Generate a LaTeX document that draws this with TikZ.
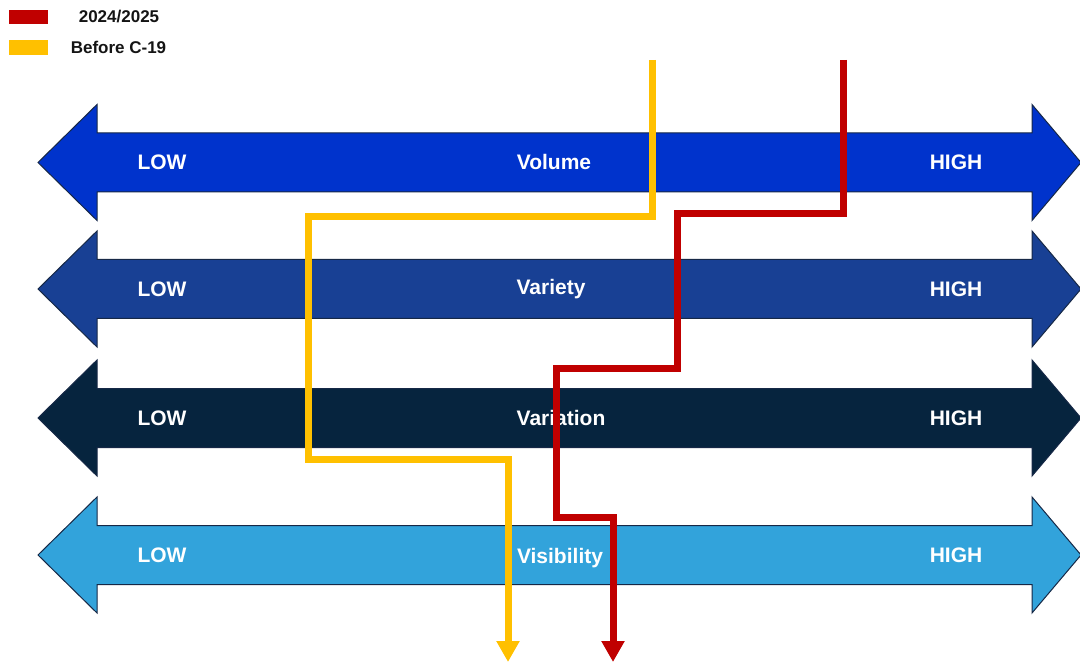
\documentclass[tikz,border=0pt]{standalone}
\usepackage{fontspec}
\setmainfont{Liberation Sans}
\usetikzlibrary{arrows.meta}
\definecolor{cVolume}{RGB}{0,51,204}
\definecolor{cVariety}{RGB}{24,64,148}
\definecolor{cVariation}{RGB}{6,36,62}
\definecolor{cVisibility}{RGB}{50,163,219}
\definecolor{cEdge}{RGB}{22,40,70}
\definecolor{cRed}{RGB}{192,0,0}
\definecolor{cYellow}{RGB}{255,192,0}
\definecolor{cInk}{RGB}{20,20,20}
\tikzset{
  dblarrow/.style={draw=cEdge, line width=1pt, line join=miter},
  barlabel/.style={text=white, font=\fontsize{21}{25}\selectfont\bfseries, inner sep=0pt},
  legendtext/.style={text=cInk, font=\fontsize{17}{20}\selectfont\bfseries, inner sep=0pt},
  trail/.style={line width=7pt, line join=miter, line cap=butt,
    -{Triangle[width=22pt,length=21pt]}},
}
% double-headed horizontal band centred at height #1
\newcommand{\bandarrow}[2]{%
  \fill[#2] (38,#1) -- (97,#1-58) -- (97,#1-29.5) -- (1032,#1-29.5) -- (1032,#1-58)
    -- (1081,#1) -- (1032,#1+58) -- (1032,#1+29.5) -- (97,#1+29.5) -- (97,#1+58) -- cycle;
  \draw[dblarrow] (38,#1) -- (97,#1-58) -- (97,#1-29.5) -- (1032,#1-29.5) -- (1032,#1-58)
    -- (1081,#1) -- (1032,#1+58) -- (1032,#1+29.5) -- (97,#1+29.5) -- (97,#1+58) -- cycle;}
\begin{document}
\begin{tikzpicture}[x=1pt,y=-1pt]
\useasboundingbox (0,0) rectangle (1080,663);

% legend
\fill[cRed] (9,10) rectangle (48,24);
\node[legendtext] (leg1) at (119,16.5) {2024/2025};
\fill[cYellow] (9,40) rectangle (48,55);
\node[legendtext] (leg2) at (118.5,47.5) {Before C-19};

% the four scales
\bandarrow{162.5}{cVolume}
\bandarrow{289}{cVariety}
\bandarrow{418}{cVariation}
\bandarrow{555}{cVisibility}

\node[barlabel] (low1) at (162,162) {LOW};
\node[barlabel] (vol) at (554,162) {Volume};
\node[barlabel] (high1) at (956,162) {HIGH};

\node[barlabel] (low2) at (162,289) {LOW};
\node[barlabel] (vty) at (551,289) {Variety};
\node[barlabel] (high2) at (956,289) {HIGH};

\node[barlabel] (low3) at (162,418) {LOW};
\node[barlabel] (vtn) at (561,418) {Variation};
\node[barlabel] (high3) at (956,418) {HIGH};

\node[barlabel] (low4) at (162,555) {LOW};
\node[barlabel] (vis) at (560,558) {Visibility};
\node[barlabel] (high4) at (956,555) {HIGH};

% Before C-19 path
\coordinate (ys) at (652,60);
\coordinate (y1) at (652,217);
\coordinate (y2) at (308,217);
\coordinate (y3) at (308,459);
\coordinate (y4) at (508,459);
\coordinate (ye) at (508,662);
\draw[trail, cYellow] (ys) -- (y1) -- (y2) -- (y3) -- (y4) -- (ye);

% 2024/2025 path
\coordinate (rs) at (843,60);
\coordinate (r1) at (843,214);
\coordinate (r2) at (677,214);
\coordinate (r3) at (677,368);
\coordinate (r4) at (556,368);
\coordinate (r5) at (556,517);
\coordinate (r6) at (613,517);
\coordinate (re) at (613,662);
\draw[trail, cRed] (rs) -- (r1) -- (r2) -- (r3) -- (r4) -- (r5) -- (r6) -- (re);
\end{tikzpicture}
\end{document}
